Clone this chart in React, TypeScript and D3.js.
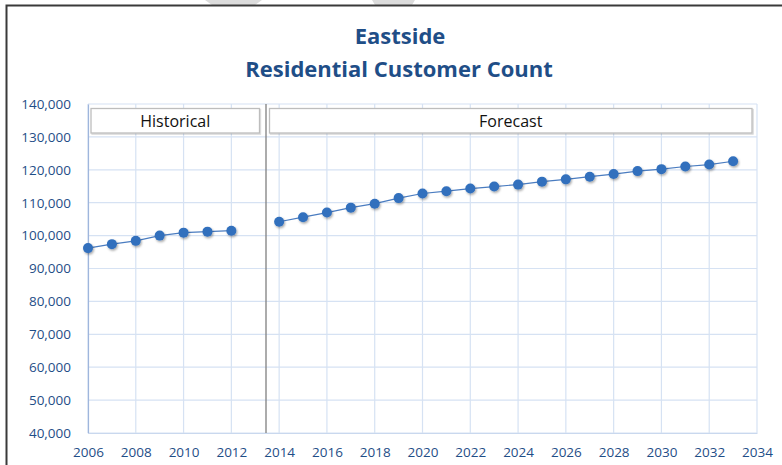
import { useEffect, useRef } from "react";
import * as d3 from "d3";

const histYears = [2006, 2007, 2008, 2009, 2010, 2011, 2012];
const histCount = [96200, 97400, 98400, 100000, 100900, 101200, 101500];

const foreYears = [
  2014, 2015, 2016, 2017, 2018, 2019, 2020, 2021, 2022, 2023, 2024, 2025, 2026,
  2027, 2028, 2029, 2030, 2031, 2032, 2033,
];
const foreCount = [
  104200, 105600, 107000, 108500, 109700, 111400, 112800, 113500, 114300,
  114900, 115500, 116400, 117100, 117900, 118700, 119600, 120200, 121000,
  121600, 122600,
];

const yTicks = [40000, 50000, 60000, 70000, 80000, 90000, 100000, 110000, 120000, 130000, 140000];
const xTicks = [2006, 2008, 2010, 2012, 2014, 2016, 2018, 2020, 2022, 2024, 2026, 2028, 2030, 2032, 2034];
const dividerYear = 2013.45;

const W = 782;
const H = 465;
const FONT = "'Open Sans', sans-serif";
const NAVY = "#1f4e87";

function App() {
  const svgRef = useRef<SVGSVGElement>(null);

  useEffect(() => {
    document.body.style.margin = "0";
    const svg = d3.select(svgRef.current);
    svg.selectAll("*").remove();

    const margin = { top: 104, right: 25, bottom: 32, left: 88 };

    const x = d3.scaleLinear().domain([2006, 2034]).range([margin.left, W - margin.right]);
    const y = d3.scaleLinear().domain([40000, 140000]).range([H - margin.bottom, margin.top]);

    svg.append("rect").attr("width", W).attr("height", H).attr("fill", "#fff");

    // faint watermark bits at the very top
    svg.append("polygon").attr("points", "205,0 262,0 255,5 212,5").attr("fill", "#dcdcdc");
    svg.append("polygon").attr("points", "372,0 415,0 412,5 375,5").attr("fill", "#dcdcdc");

    // outer frame
    svg.append("path")
      .attr("d", `M6.5,${H} V5.5 H${W}`)
      .attr("fill", "none")
      .attr("stroke", "#3a3a3a")
      .attr("stroke-width", 2);

    const defs = svg.append("defs");
    const f = defs.append("filter").attr("id", "shadow").attr("x", "-50%").attr("y", "-50%").attr("width", "200%").attr("height", "200%");
    f.append("feDropShadow").attr("dx", 1).attr("dy", 1.5).attr("stdDeviation", 1).attr("flood-color", "#000").attr("flood-opacity", 0.35);
    const bf = defs.append("filter").attr("id", "boxshadow").attr("x", "-5%").attr("y", "-20%").attr("width", "110%").attr("height", "150%");
    bf.append("feDropShadow").attr("dx", 1).attr("dy", 1).attr("stdDeviation", 0.6).attr("flood-color", "#000").attr("flood-opacity", 0.18);

    // title
    svg.append("text")
      .attr("x", 400).attr("y", 44)
      .attr("text-anchor", "middle")
      .attr("font-family", FONT).attr("font-weight", 700).attr("font-size", 22)
      .attr("fill", NAVY)
      .text("Eastside");
    svg.append("text")
      .attr("x", 399).attr("y", 77)
      .attr("text-anchor", "middle")
      .attr("font-family", FONT).attr("font-weight", 700).attr("font-size", 22)
      .attr("fill", NAVY)
      .text("Residential Customer Count");

    // gridlines
    const grid = svg.append("g");
    grid.selectAll(".hg").data(yTicks).join("line")
      .attr("x1", x(2006)).attr("x2", x(2034))
      .attr("y1", (d) => y(d)).attr("y2", (d) => y(d))
      .attr("stroke", "#d6e2f3").attr("stroke-width", 1.2);
    grid.selectAll(".vg").data(xTicks).join("line")
      .attr("x1", (d) => x(d)).attr("x2", (d) => x(d))
      .attr("y1", y(140000)).attr("y2", y(40000))
      .attr("stroke", "#d6e2f3").attr("stroke-width", 1.2);

    // axes
    const yAxis = svg.append("g")
      .attr("transform", `translate(${margin.left},0)`)
      .call(d3.axisLeft(y).tickValues(yTicks).tickSize(0).tickPadding(17).tickFormat(d3.format(",")));
    yAxis.select(".domain").attr("stroke", "#9fb6dc").attr("stroke-width", 1.2);
    yAxis.selectAll("text").attr("font-family", FONT).attr("font-size", 13.5).attr("fill", NAVY);

    const xAxis = svg.append("g")
      .attr("transform", `translate(0,${H - margin.bottom})`)
      .call(d3.axisBottom(x).tickValues(xTicks).tickSize(0).tickPadding(14).tickFormat(d3.format("d")));
    xAxis.select(".domain").attr("stroke", "#c9d8ee").attr("stroke-width", 1.2);
    xAxis.selectAll("text").attr("font-family", FONT).attr("font-size", 13.5).attr("fill", NAVY);

    // period boxes
    const boxes = [
      { label: "Historical", x0: 91, x1: 259.5 },
      { label: "Forecast", x0: 269.5, x1: 752 },
    ];
    boxes.forEach((b) => {
      svg.append("rect")
        .attr("x", b.x0).attr("y", 108.5)
        .attr("width", b.x1 - b.x0).attr("height", 24.5)
        .attr("fill", "#fff").attr("stroke", "#bdbdbd").attr("stroke-width", 1.3)
        .attr("filter", "url(#boxshadow)");
      svg.append("text")
        .attr("x", (b.x0 + b.x1) / 2).attr("y", 126.5)
        .attr("text-anchor", "middle")
        .attr("font-family", FONT).attr("font-size", 16).attr("fill", "#111")
        .text(b.label);
    });

    // divider between history and forecast
    svg.append("line")
      .attr("x1", x(dividerYear)).attr("x2", x(dividerYear))
      .attr("y1", y(140000)).attr("y2", y(40000))
      .attr("stroke", "#7f7f7f").attr("stroke-width", 1.3);

    const series = [
      histYears.map((yr, i) => ({ yr, v: histCount[i] })),
      foreYears.map((yr, i) => ({ yr, v: foreCount[i] })),
    ];
    const lineGen = d3.line<{ yr: number; v: number }>().x((d) => x(d.yr)).y((d) => y(d.v));

    series.forEach((s) => {
      svg.append("path")
        .datum(s)
        .attr("d", lineGen)
        .attr("fill", "none")
        .attr("stroke", "#4a7cc0").attr("stroke-width", 1.2);
      svg.append("g")
        .attr("filter", "url(#shadow)")
        .selectAll("circle").data(s).join("circle")
        .attr("cx", (d) => x(d.yr)).attr("cy", (d) => y(d.v))
        .attr("r", 5)
        .attr("fill", "#306fbd");
    });
  }, []);

  return <svg ref={svgRef} width={W} height={H} style={{ display: "block" }} />;
}

export default App;
